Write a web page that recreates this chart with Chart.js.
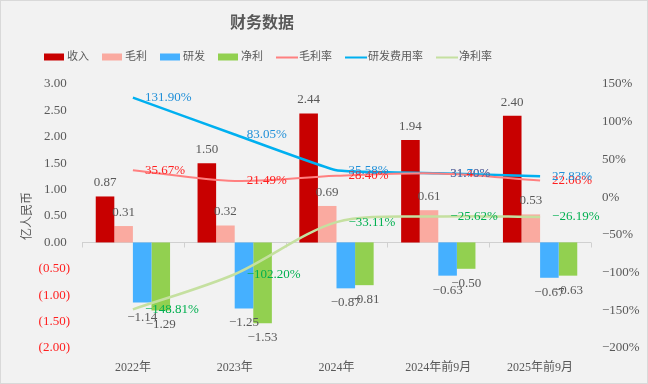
<!DOCTYPE html>
<html>
<head>
<meta charset="utf-8">
<script src="https://cdn.jsdelivr.net/npm/chart.js@4"></script>
<style>
  html, body { margin: 0; padding: 0; background: #f2f2f2; }
  canvas { display: block; }
</style>
</head>
<body>
<canvas id="chart" width="648" height="384"></canvas>
<script>
// data
const categories = ['2022年', '2023年', '2024年', '2024年前9月', '2025年前9月'];
const revenue = [0.87, 1.50, 2.44, 1.94, 2.40];
const grossProfit = [0.31, 0.32, 0.69, 0.61, 0.53];
const rdExpense = [-1.14, -1.25, -0.87, -0.63, -0.67];
const netProfit = [-1.29, -1.53, -0.81, -0.50, -0.63];
const grossMargin = [35.67, 21.49, 28.40, 31.40, 22.06];
const rdRatio = [131.90, 83.05, 35.58, 31.70, 27.83];
const netMargin = [-148.81, -102.20, -33.11, -25.62, -26.19];
const leftTickValues = [-2, -1.5, -1, -0.5, 0, 0.5, 1, 1.5, 2, 2.5, 3];
const rightTickValues = [-200, -150, -100, -50, 0, 50, 100, 150];

const FONT = "'Liberation Serif', 'Noto Sans CJK SC', serif";
const GRAY = '#595959';

function fmtNum(v) {
  return (v < 0 ? '\u2212' : '') + Math.abs(v).toFixed(2);
}

// background, zero axis, data labels, title and legend
const decor = {
  id: 'decor',
  beforeDraw(chart) {
    const ctx = chart.ctx;
    ctx.save();
    ctx.fillStyle = '#f2f2f2';
    ctx.fillRect(0, 0, chart.width, chart.height);
    ctx.strokeStyle = '#d9d9d9';
    ctx.lineWidth = 1;
    ctx.strokeRect(0.5, 0.5, chart.width - 1, chart.height - 1);
    ctx.restore();
  },
  beforeDatasetsDraw(chart) {
    const ctx = chart.ctx;
    const area = chart.chartArea;
    const y0 = Math.round(chart.scales.y.getPixelForValue(0)) + 0.5;
    const step = (area.right - area.left) / categories.length;
    ctx.save();
    ctx.strokeStyle = '#d0d0d0';
    ctx.lineWidth = 1;
    ctx.beginPath();
    ctx.moveTo(area.left, y0);
    ctx.lineTo(area.right, y0);
    for (let i = 0; i <= categories.length; i++) {
      const x = Math.round(area.left + i * step) + 0.5;
      ctx.moveTo(x, y0);
      ctx.lineTo(x, y0 + 5);
    }
    ctx.stroke();
    ctx.restore();
  },
  afterDatasetsDraw(chart) {
    const ctx = chart.ctx;
    ctx.save();
    ctx.font = '13px ' + FONT;
    chart.data.datasets.forEach((ds, i) => {
      const meta = chart.getDatasetMeta(i);
      meta.data.forEach((el, j) => {
        const v = ds.data[j];
        if (ds.type === 'bar') {
          ctx.fillStyle = GRAY;
          ctx.textAlign = 'center';
          if (v >= 0) {
            ctx.textBaseline = 'bottom';
            ctx.fillText(fmtNum(v), el.x, el.y - 7);
          } else {
            ctx.textBaseline = 'top';
            ctx.fillText(fmtNum(v), el.x, el.y + 8);
          }
        } else {
          ctx.fillStyle = ds.labelColor;
          ctx.textAlign = 'left';
          ctx.textBaseline = 'middle';
          ctx.fillText(fmtNum(v) + '%', el.x + 12, el.y);
        }
      });
    });
    ctx.restore();
  },
  afterDraw(chart) {
    const ctx = chart.ctx;
    ctx.save();
    // title
    ctx.fillStyle = GRAY;
    ctx.font = 'bold 16px ' + FONT;
    ctx.textAlign = 'center';
    ctx.textBaseline = 'middle';
    ctx.fillText('财务数据', 262, 24);
    // legend
    ctx.font = '11px ' + FONT;
    ctx.textAlign = 'left';
    let x = 44;
    const ly = 57;
    chart.data.datasets.forEach((ds) => {
      if (ds.type === 'bar') {
        ctx.fillStyle = ds.backgroundColor;
        ctx.fillRect(x, ly - 3.5, 20, 7);
        x += 23;
      } else {
        ctx.strokeStyle = ds.borderColor;
        ctx.lineWidth = 2;
        ctx.beginPath();
        ctx.moveTo(x, ly + 0.5);
        ctx.lineTo(x + 22, ly + 0.5);
        ctx.stroke();
        x += 23;
      }
      ctx.fillStyle = GRAY;
      ctx.fillText(ds.label, x, ly);
      x += ctx.measureText(ds.label).width + 13;
    });
    ctx.restore();
  }
};

new Chart(document.getElementById('chart'), {
  data: {
    labels: categories,
    datasets: [
      { type: 'bar', label: '收入', data: revenue, backgroundColor: '#C80000', yAxisID: 'y', order: 2 },
      { type: 'bar', label: '毛利', data: grossProfit, backgroundColor: '#FAAAA0', yAxisID: 'y', order: 2 },
      { type: 'bar', label: '研发', data: rdExpense, backgroundColor: '#45B0FF', yAxisID: 'y', order: 2 },
      { type: 'bar', label: '净利', data: netProfit, backgroundColor: '#92D050', yAxisID: 'y', order: 2 },
      { type: 'line', label: '毛利率', data: grossMargin, borderColor: '#FF8080', labelColor: '#FF2020', borderWidth: 2, tension: 0.35, pointRadius: 0, yAxisID: 'y1', order: 1 },
      { type: 'line', label: '研发费用率', data: rdRatio, borderColor: '#00B0F0', labelColor: '#1F8FD8', borderWidth: 2.5, tension: 0.1, pointRadius: 0, yAxisID: 'y1', order: 1 },
      { type: 'line', label: '净利率', data: netMargin, borderColor: '#C5E0A0', labelColor: '#00B050', borderWidth: 2.5, tension: 0.3, pointRadius: 0, yAxisID: 'y1', order: 1 }
    ]
  },
  options: {
    responsive: false,
    animation: false,
    layout: { padding: { top: 84, bottom: 0, left: 0, right: 0 } },
    datasets: { bar: { categoryPercentage: 0.73, barPercentage: 1.0 } },
    plugins: { legend: { display: false }, title: { display: false }, tooltip: { enabled: false } },
    scales: {
      x: {
        grid: { display: false, drawTicks: false },
        border: { display: false },
        ticks: { color: GRAY, font: { family: FONT, size: 12 }, padding: 13, maxRotation: 0 },
        afterFit(s) { s.height = 36; }
      },
      y: {
        position: 'left',
        min: -2, max: 3,
        grid: { display: false, drawTicks: false },
        border: { display: false },
        afterBuildTicks(s) { s.ticks = leftTickValues.map(v => ({ value: v })); },
        ticks: {
          font: { family: FONT, size: 13 },
          padding: 12,
          color: (c) => (c.tick && c.tick.value < 0 ? '#FF2020' : GRAY),
          callback: (v) => (v < 0 ? '(' + Math.abs(v).toFixed(2) + ')' : v.toFixed(2) + ' ')
        },
        title: { display: true, text: '亿人民币', color: GRAY, font: { family: FONT, size: 12 }, padding: { top: 21, bottom: 0 } },
        afterFit(s) { s.width = 82; }
      },
      y1: {
        position: 'right',
        min: -200, max: 150,
        grid: { display: false, drawTicks: false },
        border: { display: false },
        afterBuildTicks(s) { s.ticks = rightTickValues.map(v => ({ value: v })); },
        ticks: {
          font: { family: FONT, size: 13 },
          padding: 11,
          color: GRAY,
          callback: (v) => (v < 0 ? '\u2212' : '') + Math.abs(v) + '%'
        },
        afterFit(s) { s.width = 57; }
      }
    }
  },
  plugins: [decor]
});
</script>
</body>
</html>
